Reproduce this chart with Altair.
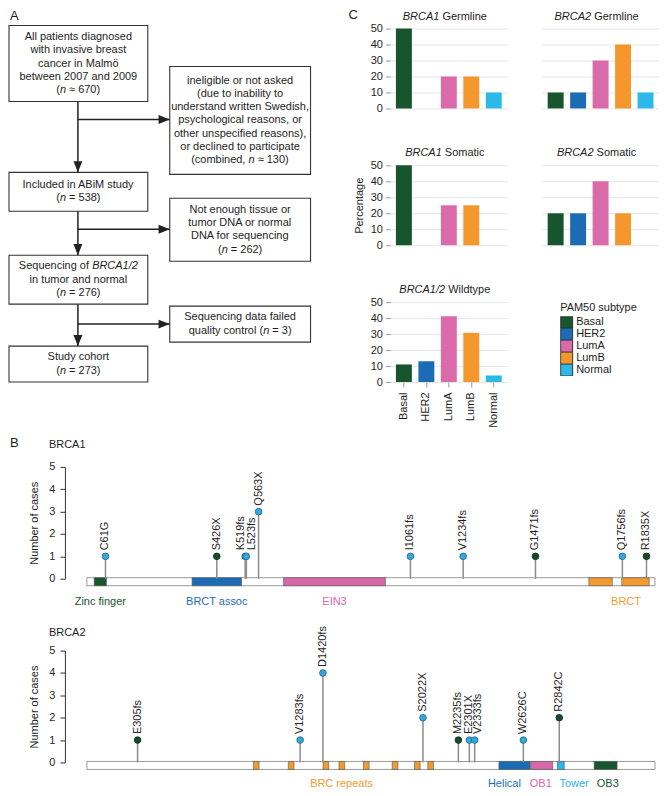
import altair as alt
import pandas as pd

FONT = "Liberation Sans"

# ---------------- Panel A: flow chart content ----------------
FLOW_TEXT = [
    ["All patients diagnosed", "with invasive breast", "cancer in Malmö", "between 2007 and 2009", "(*n* ≈ 670)"],
    ["ineligible or not asked", "(due to inability to", "understand written Swedish,", "psychological reasons, or",
     "other unspecified reasons),", "or declined to participate", "(combined, *n* ≈ 130)"],
    ["Included in ABiM study", "(*n* = 538)"],
    ["Not enough tissue or", "tumor DNA or normal", "DNA for sequencing", "(*n* = 262)"],
    ["Sequencing of *BRCA1/2*", "in tumor and normal", "(*n* = 276)"],
    ["Sequencing data failed", "quality control (*n* = 3)"],
    ["Study cohort", "(*n* = 273)"],
]
# layout of the flow chart (box edges x1, x2, y1, y2 in panel units)
FLOW_BOXES = [(2, 141, 18, 94), (163, 304, 59, 167), (2, 141, 165, 204), (163, 304, 191, 254),
              (2, 141, 248, 297), (163, 304, 299, 335), (2, 141, 339, 375)]
FLOW_LINES = [(71, 94, 71, 165), (71, 204, 71, 248), (71, 297, 71, 339),
              (71, 112, 163, 112), (71, 222, 163, 222), (71, 317, 163, 317)]
ARROW_DOWN = [(71, 165), (71, 248), (71, 339)]
ARROW_RIGHT = [(163, 112), (163, 222), (163, 317)]
LINE_H = 13.3

# ---------------- Panel C: bar data ----------------
SUBTYPES = ["Basal", "HER2", "LumA", "LumB", "Normal"]
SUBTYPE_COLORS = ["#17552f", "#1b6cb4", "#db6aaa", "#f4982d", "#2bb9ea"]
BRCA1_GERMLINE = [50, 0, 20, 20, 10]
BRCA2_GERMLINE = [10, 10, 30, 40, 10]
BRCA1_SOMATIC = [50, 0, 25, 25, 0]
BRCA2_SOMATIC = [20, 20, 40, 20, 0]
WILDTYPE = [11, 13, 41.2, 30.8, 4.1]

# ---------------- Panel B: lollipop data ----------------
BRCA1_LEN = 1863
BRCA1_MUT = ["C61G", "S426X", "K519fs", "L523fs", "Q563X", "I1061fs", "V1234fs", "G1471fs", "Q1756fs", "R1835X"]
BRCA1_POS = [61, 426, 519, 523, 563, 1061, 1234, 1471, 1756, 1835]
BRCA1_N = [1, 1, 1, 1, 3, 1, 1, 1, 1, 1]
BRCA1_ORIGIN = ["Germline", "Somatic", "Germline", "Germline", "Germline", "Germline", "Germline",
                "Somatic", "Germline", "Somatic"]
BRCA1_NUDGE = [0, 0, -4, 6, 0, 0, 0, 0, 0, 0]
BRCA1_DOM = ["Zinc finger", "BRCT assoc", "EIN3", "BRCT", "BRCT"]
BRCA1_DOM_START = [24, 345, 645, 1646, 1754]
BRCA1_DOM_END = [64, 507, 979, 1723, 1844]
BRCA1_LAB = ["Zinc finger", "BRCT assoc", "EIN3", "BRCT"]
BRCA1_LAB_POS = [44, 426, 812, 1768]

BRCA2_LEN = 3418
BRCA2_MUT = ["E305fs", "V1283fs", "D1420fs", "S2022X", "M2235fs", "E2301X", "V2333fs", "W2626C", "R2842C"]
BRCA2_POS = [305, 1283, 1420, 2022, 2235, 2301, 2333, 2626, 2842]
BRCA2_N = [1, 1, 4, 2, 1, 1, 1, 1, 2]
BRCA2_ORIGIN = ["Somatic", "Germline", "Germline", "Germline", "Somatic", "Germline", "Germline", "Germline", "Somatic"]
BRCA2_NUDGE = [0, 0, 0, 0, 0, 0, 3, 0, 0]
BRCA2_DOM = ["BRC repeats"] * 8 + ["Helical", "OB1", "Tower", "OB3"]
BRCA2_DOM_START = [1002, 1212, 1421, 1517, 1664, 1837, 1971, 2051, 2479, 2670, 2831, 3052]
BRCA2_DOM_END = [1036, 1246, 1455, 1551, 1698, 1871, 2005, 2085, 2667, 2803, 2872, 3190]
BRCA2_LAB = ["BRC repeats", "Helical", "OB1", "Tower", "OB3"]
BRCA2_LAB_POS = [1532, 2512, 2731, 2931, 3134]

DOMAIN_COLORS = {"Zinc finger": "#17552f", "BRCT assoc": "#1b6cb4", "EIN3": "#d767a8", "BRCT": "#f29a30",
                 "BRC repeats": "#f29a30", "Helical": "#1b6cb4", "OB1": "#d767a8", "Tower": "#2cb5e8",
                 "OB3": "#17552f"}
POINT_FILL = {"Germline": "#35a8dc", "Somatic": "#174a2b"}
POINT_STROKE = {"Germline": "#1b6388", "Somatic": "#0c2b18"}

TXT = "#1e1e1e"

# Arial / Liberation Sans advance widths (1/1000 em)
AW = {' ': 278, '(': 333, ')': 333, ',': 278, '.': 278, '/': 278, '=': 584, '≈': 584, '-': 333,
      'a': 556, 'b': 556, 'c': 500, 'd': 556, 'e': 556, 'f': 278, 'g': 556, 'h': 556, 'i': 222, 'j': 222,
      'k': 500, 'l': 222, 'm': 833, 'n': 556, 'o': 556, 'p': 556, 'q': 556, 'r': 333, 's': 500, 't': 278,
      'u': 556, 'v': 500, 'w': 722, 'x': 500, 'y': 500, 'z': 500, 'ö': 556,
      'A': 667, 'B': 667, 'C': 722, 'D': 722, 'E': 667, 'F': 611, 'G': 778, 'H': 722, 'I': 278, 'J': 500,
      'K': 667, 'L': 556, 'M': 833, 'N': 722, 'O': 778, 'P': 667, 'Q': 778, 'R': 722, 'S': 667, 'T': 611,
      'U': 722, 'V': 667, 'W': 944, 'X': 667, 'Y': 667, 'Z': 611}


def tw(s, size=11):
    return sum(AW.get(c, 556) for c in s) / 1000.0 * size


ONE = pd.DataFrame({"k": [0]})


def frame(x1, x2, y1, y2):
    return alt.Chart(ONE).mark_rect(opacity=0).encode(
        x=alt.value(x1), x2=alt.value(x2), y=alt.value(y1), y2=alt.value(y2))


# ---------------- build flow chart ----------------
rows = []
for (x1, x2, y1, y2), lines in zip(FLOW_BOXES, FLOW_TEXT):
    cx = (x1 + x2) / 2.0
    cy = (y1 + y2) / 2.0
    n = len(lines)
    for i, line in enumerate(lines):
        y = cy + (i - (n - 1) / 2.0) * LINE_H
        segs = line.split("*")
        total = sum(tw(s) for s in segs)
        cur = cx - total / 2.0
        for j, s in enumerate(segs):
            if s.strip():
                lead = len(s) - len(s.lstrip())
                rows.append({"x": cur + tw(s[:lead]), "y": y, "t": s.strip(), "it": j % 2 == 1})
            cur += tw(s)
flow_text = pd.DataFrame(rows)
box_df = pd.DataFrame(FLOW_BOXES, columns=["x1", "x2", "y1", "y2"])
line_df = pd.DataFrame(FLOW_LINES, columns=["x1", "y1", "x2", "y2"])
down_df = pd.DataFrame(ARROW_DOWN, columns=["x", "y"])
right_df = pd.DataFrame(ARROW_RIGHT, columns=["x", "y"])

# view origin of the flow panel sits level with the other panels' plot origins
FX0, FX1, FY0, FY1 = 58, 306, 21, 380
FX = alt.Scale(domain=[FX0, FX1], nice=False, zero=False)
FY = alt.Scale(domain=[FY0, FY1], nice=False, zero=False, reverse=True)

f_boxes = alt.Chart(box_df).mark_rect(fill="white", stroke="#333333", strokeWidth=1.1).encode(
    x=alt.X("x1:Q", scale=FX, axis=None), x2="x2:Q",
    y=alt.Y("y1:Q", scale=FY, axis=None), y2="y2:Q")
f_lines = alt.Chart(line_df).mark_rule(color="#222222", strokeWidth=1.5).encode(
    x=alt.X("x1:Q", scale=FX, axis=None), x2="x2:Q",
    y=alt.Y("y1:Q", scale=FY, axis=None), y2="y2:Q")
f_down = alt.Chart(down_df).mark_point(shape="M-0.8,-2L0.8,-2L0,0Z", filled=True, size=125,
                                       color="#222222", opacity=1).encode(
    x=alt.X("x:Q", scale=FX, axis=None), y=alt.Y("y:Q", scale=FY, axis=None))
f_right = alt.Chart(right_df).mark_point(shape="M-2,-0.8L-2,0.8L0,0Z", filled=True, size=125,
                                         color="#222222", opacity=1).encode(
    x=alt.X("x:Q", scale=FX, axis=None), y=alt.Y("y:Q", scale=FY, axis=None))
f_txt = alt.Chart(flow_text).transform_filter("!datum.it").mark_text(
    align="left", baseline="middle", fontSize=11, color=TXT).encode(
    x=alt.X("x:Q", scale=FX, axis=None), y=alt.Y("y:Q", scale=FY, axis=None), text="t:N")
f_txt_it = alt.Chart(flow_text).transform_filter("datum.it").mark_text(
    align="left", baseline="middle", fontSize=11, color=TXT, fontStyle="italic").encode(
    x=alt.X("x:Q", scale=FX, axis=None), y=alt.Y("y:Q", scale=FY, axis=None), text="t:N")
f_letter = alt.Chart(pd.DataFrame({"t": ["A"]})).mark_text(
    align="left", baseline="middle", fontSize=13, color=TXT).encode(
    x=alt.value(3 - FX0), y=alt.value(8.5 - FY0), text="t:N")
flow = alt.layer(f_boxes, f_lines, f_down, f_right, f_txt, f_txt_it, f_letter).properties(
    width=FX1 - FX0, height=FY1 - FY0)

# ---------------- bar panels ----------------
BW, BH = 117, 80


def bar_panel(vals, gene, kind, left=True, bottom=False, legend=False, ytitle=None, letter=None):
    df = pd.DataFrame({"subtype": SUBTYPES, "pct": vals})
    ykw = dict(values=[0, 10, 20, 30, 40, 50], grid=True, gridColor="#e6e6e6", domain=False,
               ticks=left, labels=left, tickColor="#9a9a9a", tickSize=5, labelPadding=3,
               labelFontSize=11, labelColor=TXT, minExtent=0)
    if ytitle:
        ykw.update(title=ytitle, titleFontSize=11, titleFontWeight="normal", titleColor=TXT, titlePadding=6)
    else:
        ykw.update(title=None)
    if bottom:
        xaxis = alt.Axis(labelAngle=270, domain=False, tickColor="#9a9a9a", tickSize=5, labelPadding=5,
                         labelFontSize=11, labelColor=TXT, title=None, grid=False)
    else:
        xaxis = None
    if legend:
        leg = alt.Legend(orient="none", legendX=170, legendY=0, title="PAM50 subtype", titleFontSize=11,
                         titleFontWeight="normal", titleColor=TXT, labelFontSize=11, labelColor=TXT,
                         symbolType="square", symbolSize=144, symbolStrokeColor="#333333",
                         symbolStrokeWidth=1, rowPadding=0, labelOffset=3, titlePadding=3,
                         symbolOpacity=1, clipHeight=12)
    else:
        leg = None
    bars = alt.Chart(df).mark_bar(opacity=1).encode(
        x=alt.X("subtype:N", sort=SUBTYPES, scale=alt.Scale(paddingInner=0.29, paddingOuter=0.245), axis=xaxis),
        y=alt.Y("pct:Q", scale=alt.Scale(domain=[0, 50], nice=False), axis=alt.Axis(**ykw)),
        color=alt.Color("subtype:N", scale=alt.Scale(domain=SUBTYPES, range=SUBTYPE_COLORS), legend=leg))
    center = BW / 2.0 - 4
    total = tw(gene) + tw(" ") + tw(kind)
    x0 = center - total / 2.0
    tdf = pd.DataFrame({"gene": [gene], "kind": [kind]})
    t_it = alt.Chart(tdf).mark_text(align="left", baseline="middle", fontSize=11, fontStyle="italic",
                                    color=TXT).encode(x=alt.value(x0), y=alt.value(-12), text="gene:N")
    t_no = alt.Chart(tdf).mark_text(align="left", baseline="middle", fontSize=11, color=TXT).encode(
        x=alt.value(x0 + tw(gene) + tw(" ")), y=alt.value(-12), text="kind:N")
    fx1 = -42 if left else 0
    fx2 = 252 if legend else BW
    fy2 = BH + 49 if bottom else BH
    layers = [frame(fx1, fx2, -19, fy2), bars, t_it, t_no]
    if letter:
        layers.append(alt.Chart(pd.DataFrame({"t": [letter]})).mark_text(
            align="left", baseline="middle", fontSize=13, color=TXT).encode(
            x=alt.value(-42), y=alt.value(-13.5), text="t:N"))
    return alt.layer(*layers).properties(width=BW, height=BH)


p1 = bar_panel(BRCA1_GERMLINE, "BRCA1", "Germline", left=True, letter="C")
p2 = bar_panel(BRCA2_GERMLINE, "BRCA2", "Germline", left=False)
p3 = bar_panel(BRCA1_SOMATIC, "BRCA1", "Somatic", left=True, ytitle="Percentage")
p4 = bar_panel(BRCA2_SOMATIC, "BRCA2", "Somatic", left=False)
p5 = bar_panel(WILDTYPE, "BRCA1/2", "Wildtype", left=True, bottom=True, legend=True)

# ---------------- lollipop panels ----------------
LW, LH = 594, 112


def lolli(gene, length, xdom, muts, pos, counts, origin, nudges, dnames, dstart, dend, labs, labpos,
          top, bottom, title_dy, label_dy, letter=None):
    span = xdom[1] - xdom[0]
    XS = alt.Scale(domain=xdom, nice=False, zero=False)
    YS = alt.Scale(domain=[0, 5], nice=False)
    yaxis = alt.Axis(values=[0, 1, 2, 3, 4, 5], grid=False, domainColor="#333333", tickColor="#333333",
                     tickSize=5, labelPadding=5, labelFontSize=11, labelColor=TXT, title="Number of cases",
                     titleFontSize=11, titleFontWeight="normal", titleColor=TXT, titlePadding=9, minExtent=0)
    m = pd.DataFrame({"label": muts, "pos": pos, "count": counts, "origin": origin, "nudge": nudges})
    m["label_x"] = m["pos"] + m["nudge"] * span / LW
    m["fill"] = m["origin"].map(POINT_FILL)
    m["stroke"] = m["origin"].map(POINT_STROKE)
    d = pd.DataFrame({"name": dnames, "start": dstart, "end": dend})
    d["hex"] = d["name"].map(DOMAIN_COLORS)
    lb = pd.DataFrame({"name": labs, "pos": labpos})
    lb["hex"] = lb["name"].map(DOMAIN_COLORS)
    prot = pd.DataFrame({"start": [0], "end": [length]})

    protein = alt.Chart(prot).mark_rect(fill="white", stroke="#9a9a9a", strokeWidth=1).encode(
        x=alt.X("start:Q", scale=XS, axis=None), x2="end:Q", y=alt.value(LH - 1), y2=alt.value(LH + 7))
    doms = alt.Chart(d).mark_rect(stroke="#555555", strokeWidth=0.6).encode(
        x=alt.X("start:Q", scale=XS, axis=None), x2="end:Q", y=alt.value(LH - 1), y2=alt.value(LH + 7),
        fill=alt.Fill("hex:N", scale=None))
    dlab = alt.Chart(lb).mark_text(fontSize=11, baseline="middle", align="center").encode(
        x=alt.X("pos:Q", scale=XS, axis=None), y=alt.value(LH + label_dy), text="name:N",
        color=alt.Color("hex:N", scale=None))
    stems = alt.Chart(m).mark_rule(color="#8c8c8c", strokeWidth=1.5).encode(
        x=alt.X("pos:Q", scale=XS, axis=None), y=alt.Y("count:Q", scale=YS, axis=yaxis), y2=alt.datum(0))
    pts = alt.Chart(m).mark_circle(size=44, opacity=1, strokeWidth=0.8).encode(
        x=alt.X("pos:Q", scale=XS, axis=None), y=alt.Y("count:Q", scale=YS, axis=yaxis),
        fill=alt.Fill("fill:N", scale=None), stroke=alt.Stroke("stroke:N", scale=None))
    labels = alt.Chart(m).mark_text(angle=270, align="left", baseline="middle", dx=6, fontSize=11,
                                    color=TXT).encode(
        x=alt.X("label_x:Q", scale=XS, axis=None), y=alt.Y("count:Q", scale=YS, axis=yaxis), text="label:N")
    gdf = pd.DataFrame({"t": [gene]})
    gtitle = alt.Chart(gdf).mark_text(align="left", baseline="middle", fontSize=11, color=TXT).encode(
        x=alt.value(-16), y=alt.value(title_dy), text="t:N")
    layers = [frame(-56, LW, -top, LH + bottom), protein, doms, dlab, stems, pts, labels, gtitle]
    if letter:
        layers.append(alt.Chart(pd.DataFrame({"t": [letter]})).mark_text(
            align="left", baseline="middle", fontSize=13, color=TXT).encode(
            x=alt.value(-55), y=alt.value(-24), text="t:N"))
    return alt.layer(*layers).properties(width=LW, height=LH)


b1 = lolli("BRCA1", BRCA1_LEN, [-72.0, 1872.8], BRCA1_MUT, BRCA1_POS, BRCA1_N, BRCA1_ORIGIN, BRCA1_NUDGE,
           BRCA1_DOM, BRCA1_DOM_START, BRCA1_DOM_END, BRCA1_LAB, BRCA1_LAB_POS,
           top=36, bottom=26, title_dy=-22, label_dy=23, letter="B")
b2 = lolli("BRCA2", BRCA2_LEN, [-132.2, 3436.1], BRCA2_MUT, BRCA2_POS, BRCA2_N, BRCA2_ORIGIN, BRCA2_NUDGE,
           BRCA2_DOM, BRCA2_DOM_START, BRCA2_DOM_END, BRCA2_LAB, BRCA2_LAB_POS,
           top=44, bottom=27, title_dy=-18, label_dy=22)

row1 = alt.hconcat(p1, p2, spacing=35).resolve_scale(color="independent")
row2 = alt.hconcat(p3, p4, spacing=35).resolve_scale(color="independent")
bars_block = alt.vconcat(row1, row2, p5, spacing=33).resolve_scale(color="independent")
top_row = alt.hconcat(flow, bars_block, spacing=36).resolve_scale(color="independent")
chart = alt.vconcat(top_row, b1, b2, spacing=0).resolve_scale(color="independent").properties(padding=0)
chart = chart.configure(font=FONT).configure_view(stroke=None).configure_legend(rowPadding=0)

chart.save("out.html", embed_options={"renderer": "svg", "actions": False})
